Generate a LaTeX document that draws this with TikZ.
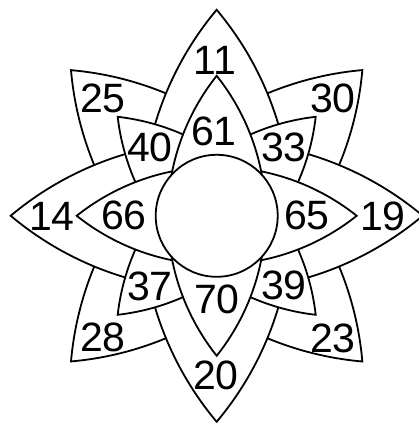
\documentclass[tikz,border=0pt]{standalone}
\usepackage{fontspec}
\setmainfont{Liberation Sans}
\newcommand\mylens[3]{%
  \pgfmathsetmacro\lensR{#2/sin(#3)}%
  \pgfmathsetmacro\lensD{#2/tan(#3)}%
  \path[petal, shift={(\cx,\cy)}, rotate=#1]
    (0,{\lensR-\lensD}) arc[start angle=90, end angle={90+#3}, radius=\lensR pt]
    arc[start angle={270-#3}, end angle={270+#3}, radius=\lensR pt]
    arc[start angle={90-#3}, end angle=90, radius=\lensR pt] -- cycle;}
\begin{document}
\begin{tikzpicture}[x=1pt,y=1pt,
  petal/.style={draw=black, fill=white, line width=1.8pt, line join=miter},
  lbl/.style={font=\fontsize{41}{41}\selectfont, inner sep=0pt}]
\useasboundingbox (0,0) rectangle (418,423);
\def\cx{216.7}\def\cy{207.2}
% outer diagonal petals
\mylens{45}{206}{40}
\mylens{135}{206}{40}
% outer orthogonal petals
\mylens{0}{206}{40}
\mylens{90}{206}{40}
% inner diagonal petals
\mylens{45}{140}{38.5}
\mylens{135}{140}{38.5}
% inner orthogonal petals
\mylens{0}{140}{38.5}
\mylens{90}{140}{38.5}
% centre
\path[petal] (\cx,\cy) circle[radius=61pt];
% labels
\node[lbl] (n11) at (215,363) {11};
\node[lbl] (n61) at (214,292) {61};
\node[lbl] (n25) at (103,325) {25};
\node[lbl] (n30) at (333,325) {30};
\node[lbl] (n40) at (150,276) {40};
\node[lbl] (n33) at (284,276) {33};
\node[lbl] (n14) at (52,207) {14};
\node[lbl] (n66) at (124,208) {66};
\node[lbl] (n65) at (307,208) {65};
\node[lbl] (n19) at (383,207) {19};
\node[lbl] (n37) at (150,137) {37};
\node[lbl] (n39) at (284,138) {39};
\node[lbl] (n70) at (217,124) {70};
\node[lbl] (n28) at (103,86) {28};
\node[lbl] (n23) at (333,85) {23};
\node[lbl] (n20) at (216,48) {20};
\end{tikzpicture}
\end{document}
